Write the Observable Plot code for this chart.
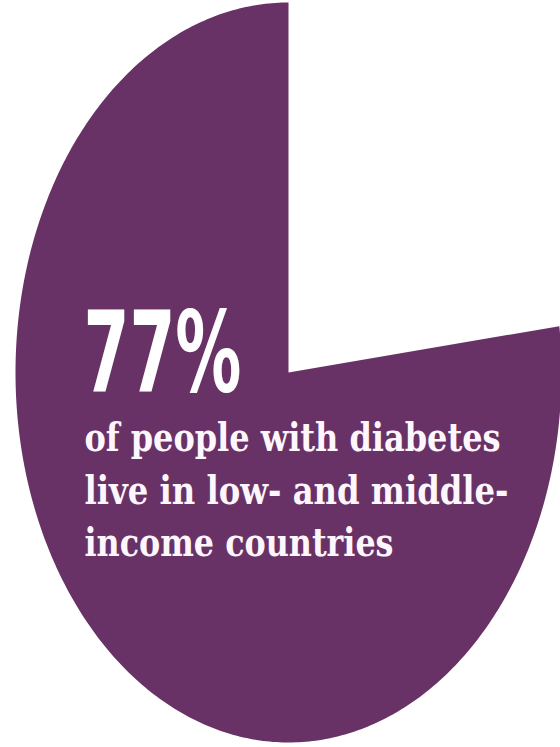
<!DOCTYPE html>
<html><head><meta charset="utf-8">
<script src="https://cdn.jsdelivr.net/npm/d3@7"></script>
<script src="https://cdn.jsdelivr.net/npm/@observablehq/plot@0.6"></script>
<style>
html,body{margin:0;padding:0;background:#fff;}
#chart svg{display:block}
</style></head><body><div id="chart"></div>
<script>
// Data
const categories = ["High-income countries", "Low- and middle-income countries"];
const shares = [23, 77];
const headline = ["77%"];
const captionLines = ["of people with diabetes", "live in low- and middle-", "income countries"];

// Layout
const W = 560, H = 747;
const cx = 288, cy = 372, rx = 273, ry = 370;
const purple = "#693266";

const arcs = d3.pie().sort(null).value(d => d)(shares);
const slicePoints = [];
arcs.forEach((a, i) => {
  if (categories[i] !== "Low- and middle-income countries") return;
  const n = 400;
  slicePoints.push({category: categories[i], x: 0, y: 0});
  for (let k = 0; k <= n; k++) {
    const t = a.startAngle + (a.endAngle - a.startAngle) * k / n;
    slicePoints.push({category: categories[i], x: Math.sin(t), y: Math.cos(t)});
  }
  slicePoints.push({category: categories[i], x: 0, y: 0});
});

const headSize = 112, capSize = 40;
const captionBaselines = [450, 503, 555];
const serif = "'DejaVu Serif Condensed', 'DejaVu Serif', serif";
const narrow = "'Liberation Sans Narrow', 'DejaVu Sans Condensed', 'Roboto', sans-serif";

const plot = Plot.plot({
  width: W, height: H, margin: 0,
  x: {domain: [-cx / rx, (W - cx) / rx], axis: null},
  y: {domain: [-(H - cy) / ry, cy / ry], axis: null},
  marks: [
    Plot.line(slicePoints, {x: "x", y: "y", z: "category", fill: purple, stroke: "none", curve: "linear"}),
    Plot.text(headline, {text: d => d, frameAnchor: "top-left", textAnchor: "start", lineAnchor: "top",
      dx: 83, dy: 390 - 0.71 * headSize, fontSize: headSize, fontWeight: 700, fontFamily: narrow, fill: "white"}),
    ...captionLines.map((line, i) => Plot.text([line], {text: d => d, frameAnchor: "top-left", textAnchor: "start", lineAnchor: "top",
      dx: 84, dy: captionBaselines[i] - 0.71 * capSize, fontSize: capSize, fontWeight: 700, fontFamily: serif, fill: "#fdf6fc"}))
  ]
});

const widths = {"77%": 158};
widths[captionLines[0]] = 416;
widths[captionLines[1]] = 424;
widths[captionLines[2]] = 309;
plot.querySelectorAll("text").forEach(t => {
  const w = widths[t.textContent];
  if (w) { t.setAttribute("textLength", w); t.setAttribute("lengthAdjust", "spacingAndGlyphs"); }
});
plot.querySelectorAll("g[aria-label=text]").forEach(g => g.style.fontStretch = "condensed");
document.getElementById("chart").appendChild(plot);
</script></body></html>
